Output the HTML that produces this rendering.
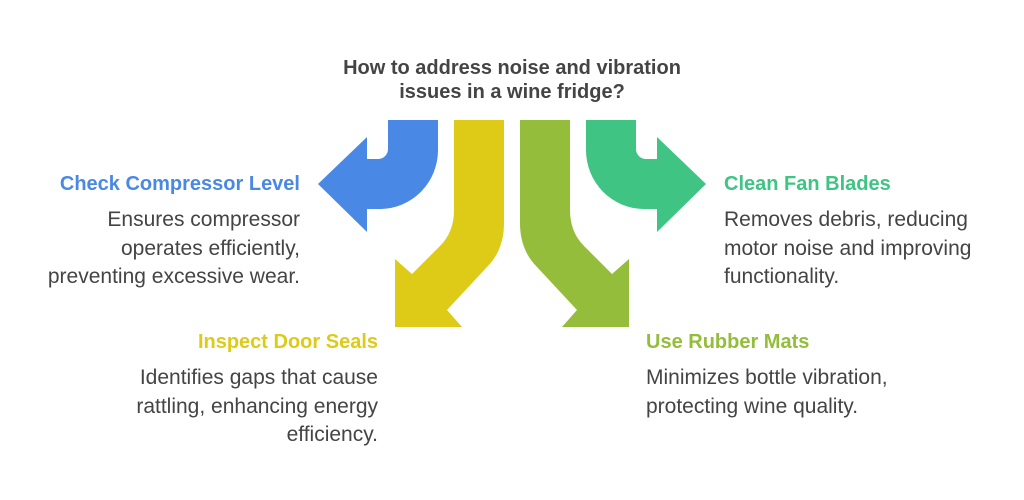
<!DOCTYPE html>
<html><head><meta charset="utf-8"><style>
body{margin:0;width:1024px;height:500px;background:#fff;position:relative;font-family:"Liberation Sans",sans-serif;overflow:hidden}
.t{position:absolute;font-size:21px;line-height:28.5px;color:#444}
.h{position:absolute;font-size:20px;font-weight:bold;line-height:24px}
.r{text-align:right}
</style></head><body>
<svg width="1024" height="500" style="position:absolute;left:0;top:0">
<path fill="#4a88e5" d="M388,120 L438,120 L438,150 A58,59 0 0 1 380,209 L367,209 L367,232 L318,184 L367,137 L367,159 L378,159 A10,10 0 0 0 388,149 Z"/>
<path fill="#3fc483" d="M636,120 L586,120 L586,150 A58,59 0 0 0 644,209 L657,209 L657,232 L706,184 L657,137 L657,159 L646,159 A10,10 0 0 1 636,149 Z"/>
<path fill="#ddcb18" d="M454,120 L504,120 L504,223 Q504,250 487,267 L447,310 L462,327 L395,327 L395,259 L412,274 L440,246 Q454,232 454,210 Z"/>
<path fill="#93bd3a" d="M570,120 L520,120 L520,223 Q520,250 537,267 L577,310 L562,327 L629,327 L629,259 L612,274 L584,246 Q570,232 570,210 Z"/>
</svg>
<div class="h" style="left:212px;width:600px;top:56px;text-align:center;color:#444;line-height:24px">How to address noise and vibration<br>issues in a wine fridge?</div>
<div class="h r" style="left:0;width:300px;top:172px;color:#4a88e5">Check Compressor Level</div>
<div class="t r" style="left:0;width:300px;top:206px">Ensures compressor<br>operates efficiently,<br>preventing excessive wear.</div>
<div class="h" style="left:724px;top:172px;color:#3fc483">Clean Fan Blades</div>
<div class="t" style="left:724px;top:206px">Removes debris, reducing<br>motor noise and improving<br>functionality.</div>
<div class="h r" style="left:0;width:378px;top:330px;color:#ddcb18">Inspect Door Seals</div>
<div class="t r" style="left:0;width:378px;top:364px">Identifies gaps that cause<br>rattling, enhancing energy<br>efficiency.</div>
<div class="h" style="left:646px;top:330px;color:#93bd3a">Use Rubber Mats</div>
<div class="t" style="left:646px;top:364px">Minimizes bottle vibration,<br>protecting wine quality.</div>
</body></html>
